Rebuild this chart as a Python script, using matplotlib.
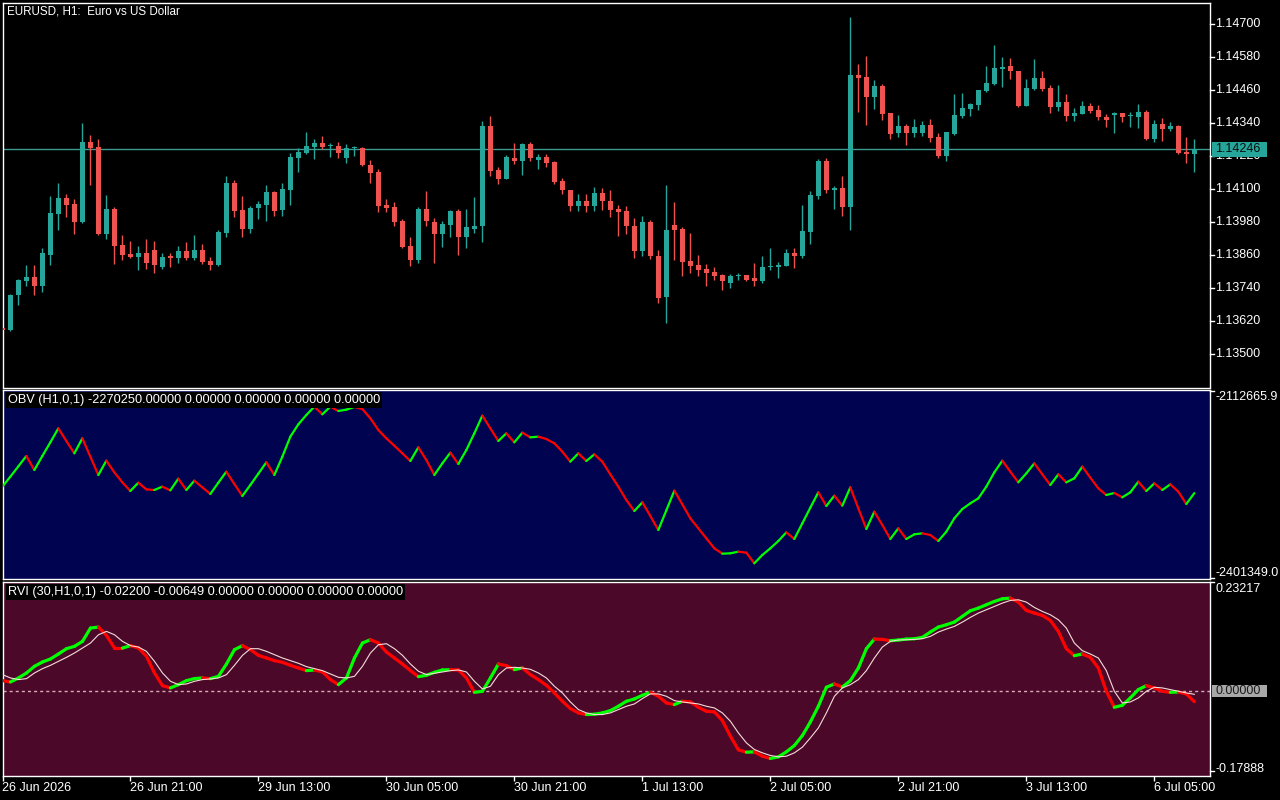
import matplotlib
matplotlib.use("Agg")
import matplotlib.pyplot as plt
from matplotlib.collections import LineCollection
from matplotlib.patches import Rectangle
import numpy as np

plt.rcParams['font.family'] = ['Liberation Sans', 'DejaVu Sans']

# ---------------- data (prices in points of 1e-5) ----------------
open_pts = [
    113597, 113589, 113714, 113768, 113782, 113750, 113863, 114012, 114069, 114047,
    113983, 114273, 114254, 113939, 114029, 113898, 113865, 113854, 113869, 113880,
    113819, 113854, 113852, 113876, 113852, 113880, 113840, 113826, 113943, 114124,
    114025, 113957, 114032, 114045, 114091, 114026, 114099, 114216, 114234, 114256,
    114269, 114257, 114258, 114216, 114250, 114251, 114189, 114163, 114043, 114036,
    113985, 113894, 113844, 114029, 113982, 113936, 113972, 114022, 113928, 113957,
    113965, 114331, 114171, 114139, 114214, 114205, 114265, 114208, 114218, 114200,
    114131, 114098, 114041, 114058, 114041, 114087, 114058, 114029, 114022, 113967,
    113877, 113982, 113858, 113710, 113971, 113956, 113840, 113825, 113811, 113800,
    113789, 113761, 113785, 113789, 113778, 113765, 113817, 113819, 113823, 113869,
    113856, 113946, 114077, 114204, 114096, 114105, 114037, 114516, 114509, 114438,
    114476, 114378, 114305, 114331, 114307, 114307, 114335, 114291, 114223, 114303,
    114368, 114394, 114408, 114459, 114485, 114539, 114549, 114529, 114405, 114466,
    114506, 114469, 114401, 114418, 114368, 114376, 114404, 114389, 114365, 114372,
    114377, 114366, 114365, 114382, 114285, 114338, 114318, 114331, 114236, 114227]
close_pts = [
    113589, 113716, 113771, 113782, 113750, 113869, 114014, 114069, 114045, 113983,
    114273, 114252, 113939, 114029, 113895, 113863, 113854, 113869, 113834, 113826,
    113854, 113852, 113876, 113852, 113880, 113837, 113826, 113945, 114124, 114023,
    113957, 114032, 114047, 114091, 114023, 114102, 114218, 114236, 114258, 114269,
    114254, 114259, 114234, 114251, 114252, 114187, 114161, 114041, 114034, 113983,
    113892, 113844, 114029, 113986, 113936, 113974, 114022, 113928, 113963, 113967,
    114331, 114168, 114139, 114218, 114205, 114265, 114216, 114218, 114197, 114128,
    114096, 114041, 114058, 114041, 114087, 114056, 114026, 114019, 113965, 113877,
    113982, 113856, 113706, 113952, 113954, 113837, 113823, 113808, 113797, 113786,
    113765, 113786, 113788, 113772, 113765, 113818, 113820, 113825, 113869, 113856,
    113949, 114080, 114204, 114096, 114105, 114037, 114516, 114507, 114438, 114476,
    114376, 114303, 114331, 114307, 114327, 114335, 114288, 114223, 114309, 114371,
    114396, 114411, 114462, 114487, 114542, 114544, 114529, 114405, 114469, 114506,
    114466, 114401, 114418, 114368, 114378, 114404, 114387, 114365, 114354, 114377,
    114365, 114368, 114382, 114285, 114338, 114318, 114331, 114234, 114227, 114246]
high_pts = [
    113601, 113718, 113775, 113825, 113825, 113887, 114076, 114124, 114083, 114065,
    114342, 114298, 114284, 114080, 114036, 113934, 113912, 113894, 113920, 113912,
    113869, 113869, 113894, 113909, 113934, 113901, 113854, 113952, 114149, 114134,
    114076, 114040, 114058, 114116, 114093, 114124, 114233, 114251, 114309, 114284,
    114294, 114269, 114273, 114265, 114258, 114254, 114207, 114174, 114065, 114054,
    113992, 113927, 114036, 114094, 113996, 113985, 114025, 114029, 114029, 114073,
    114349, 114367, 114182, 114225, 114269, 114267, 114273, 114229, 114229, 114204,
    114142, 114098, 114083, 114083, 114109, 114105, 114098, 114043, 114040, 113996,
    114003, 113989, 113880, 114116, 114054, 113963, 113942, 113862, 113829, 113818,
    113792, 113792, 113796, 113789, 113832, 113858, 113887, 113836, 113883, 113887,
    114043, 114094, 114211, 114214, 114113, 114149, 114727, 114556, 114586, 114498,
    114484, 114378, 114371, 114338, 114356, 114349, 114356, 114305, 114310, 114447,
    114451, 114415, 114463, 114549, 114626, 114582, 114578, 114532, 114502, 114575,
    114531, 114480, 114480, 114447, 114396, 114422, 114415, 114407, 114375, 114383,
    114379, 114383, 114411, 114389, 114353, 114360, 114345, 114335, 114291, 114284]
low_pts = [
    113586, 113583, 113681, 113749, 113714, 113728, 113825, 113954, 114001, 113936,
    113976, 114117, 113934, 113920, 113829, 113844, 113852, 113808, 113812, 113794,
    113812, 113819, 113834, 113844, 113844, 113830, 113808, 113823, 113925, 114001,
    113925, 113943, 113994, 113986, 114005, 114005, 114045, 114165, 114230, 114212,
    114247, 114219, 114216, 114197, 114223, 114185, 114125, 114019, 114016, 113968,
    113888, 113823, 113834, 113968, 113834, 113892, 113925, 113863, 113885, 113943,
    113910, 114150, 114121, 114138, 114194, 114154, 114205, 114176, 114183, 114121,
    114085, 114023, 114023, 114016, 114023, 114026, 114001, 113932, 113939, 113852,
    113859, 113848, 113688, 113615, 113844, 113786, 113797, 113786, 113750, 113772,
    113735, 113743, 113772, 113768, 113750, 113761, 113808, 113779, 113821, 113815,
    113852, 113903, 114066, 114088, 114030, 114005, 113954, 114383, 114336, 114394,
    114354, 114285, 114292, 114263, 114292, 114296, 114274, 114216, 114205, 114299,
    114358, 114368, 114390, 114456, 114481, 114474, 114503, 114401, 114404, 114463,
    114459, 114379, 114387, 114350, 114350, 114375, 114379, 114354, 114328, 114307,
    114347, 114328, 114325, 114281, 114274, 114277, 114314, 114227, 114197, 114165]

obv = [
    -2260330, -2244943, -2229043, -2213143, -2234685, -2213143, -2192114, -2170572, -2190062, -2209040,
    -2185959, -2214169, -2242378, -2220323, -2238275, -2253662, -2266997, -2254175, -2264433, -2265459,
    -2260330, -2265971, -2248020, -2265459, -2251097, -2261355, -2271613, -2254175, -2237249, -2256226,
    -2274691, -2257765, -2240326, -2222888, -2242378, -2214169, -2183395, -2164417, -2150056, -2137234,
    -2149030, -2137234, -2143901, -2141850, -2137746, -2140824, -2155185, -2173137, -2185959, -2197243,
    -2209040, -2220836, -2199807, -2219298, -2242378, -2224427, -2208014, -2225452, -2203911, -2178266,
    -2151082, -2170572, -2190062, -2178266, -2192114, -2177240, -2184420, -2183395, -2186985, -2193653,
    -2206475, -2221862, -2209040, -2220836, -2210578, -2221862, -2241352, -2260330, -2280846, -2297771,
    -2284436, -2305465, -2327007, -2296745, -2266484, -2287513, -2309055, -2324442, -2339829, -2355216,
    -2363422, -2362900, -2360345, -2361884, -2378297, -2365474, -2355216, -2343932, -2330597, -2340855,
    -2316749, -2292642, -2269049, -2290078, -2274178, -2289565, -2261355, -2293668, -2325468, -2298797,
    -2319313, -2340855, -2324442, -2340855, -2333674, -2332136, -2334700, -2343932, -2329571, -2309055,
    -2294694, -2285975, -2278281, -2260330, -2238275, -2220323, -2237249, -2253662, -2239814, -2224427,
    -2241352, -2257765, -2241352, -2253662, -2247507, -2229556, -2246481, -2262894, -2273152, -2270075,
    -2276742, -2269049, -2252636, -2266997, -2255201, -2265459, -2256739, -2268023, -2287000, -2270250]

rvi_main = [
    0.0226, 0.0198, 0.0283, 0.0389, 0.0531, 0.0623, 0.0687, 0.0793, 0.0906, 0.0956,
    0.1062, 0.1345, 0.1366, 0.1189, 0.0920, 0.0920, 0.0970, 0.0920, 0.0743, 0.0389,
    0.0120, 0.0071, 0.0141, 0.0226, 0.0269, 0.0283, 0.0269, 0.0318, 0.0580, 0.0885,
    0.0970, 0.0885, 0.0764, 0.0708, 0.0651, 0.0616, 0.0552, 0.0495, 0.0439, 0.0453,
    0.0410, 0.0248, 0.0141, 0.0283, 0.0708, 0.1026, 0.1097, 0.1026, 0.0835, 0.0708,
    0.0580, 0.0439, 0.0311, 0.0340, 0.0403, 0.0453, 0.0460, 0.0453, 0.0283, -0.0022,
    -0.0001, 0.0283, 0.0580, 0.0545, 0.0460, 0.0495, 0.0354, 0.0248, 0.0127, -0.0036,
    -0.0213, -0.0369, -0.0461, -0.0496, -0.0489, -0.0461, -0.0411, -0.0319, -0.0213, -0.0164,
    -0.0086, -0.0022, -0.0107, -0.0249, -0.0284, -0.0213, -0.0228, -0.0341, -0.0426, -0.0440,
    -0.0624, -0.0957, -0.1247, -0.1297, -0.1290, -0.1382, -0.1431, -0.1396, -0.1290, -0.1155,
    -0.0943, -0.0653, -0.0319, 0.0085, 0.0155, 0.0091, 0.0226, 0.0495, 0.0906, 0.1111,
    0.1104, 0.1076, 0.1090, 0.1111, 0.1118, 0.1147, 0.1260, 0.1366, 0.1416, 0.1472,
    0.1593, 0.1713, 0.1770, 0.1841, 0.1911, 0.1968, 0.1982, 0.1897, 0.1720, 0.1664,
    0.1614, 0.1508, 0.1274, 0.0906, 0.0757, 0.0793, 0.0722, 0.0495, -0.0001, -0.0341,
    -0.0299, -0.0142, 0.0035, 0.0120, 0.0071, -0.0001, -0.0022, -0.0015, -0.0057, -0.02200]
rvi_signal = [
    0.0354, 0.0283, 0.0248, 0.0269, 0.0389, 0.0481, 0.0552, 0.0637, 0.0722, 0.0814,
    0.0920, 0.1026, 0.1203, 0.1274, 0.1203, 0.1062, 0.0970, 0.0941, 0.0849, 0.0637,
    0.0389, 0.0212, 0.0141, 0.0155, 0.0212, 0.0248, 0.0262, 0.0283, 0.0354, 0.0552,
    0.0764, 0.0906, 0.0906, 0.0849, 0.0779, 0.0708, 0.0651, 0.0595, 0.0524, 0.0481,
    0.0439, 0.0368, 0.0297, 0.0283, 0.0318, 0.0531, 0.0814, 0.0991, 0.1012, 0.0906,
    0.0764, 0.0580, 0.0425, 0.0354, 0.0382, 0.0410, 0.0439, 0.0453, 0.0410, 0.0212,
    0.0049, 0.0106, 0.0354, 0.0495, 0.0510, 0.0495, 0.0467, 0.0389, 0.0283, 0.0106,
    -0.0036, -0.0228, -0.0390, -0.0461, -0.0496, -0.0496, -0.0461, -0.0390, -0.0319, -0.0270,
    -0.0156, -0.0057, -0.0057, -0.0107, -0.0199, -0.0228, -0.0249, -0.0270, -0.0319, -0.0355,
    -0.0461, -0.0638, -0.0886, -0.1098, -0.1240, -0.1311, -0.1367, -0.1396, -0.1382, -0.1311,
    -0.1190, -0.0992, -0.0780, -0.0461, -0.0107, 0.0071, 0.0141, 0.0248, 0.0439, 0.0708,
    0.0941, 0.1062, 0.1090, 0.1097, 0.1104, 0.1118, 0.1168, 0.1260, 0.1324, 0.1380,
    0.1472, 0.1572, 0.1664, 0.1734, 0.1805, 0.1876, 0.1933, 0.1947, 0.1897, 0.1784,
    0.1699, 0.1628, 0.1522, 0.1345, 0.1026, 0.0864, 0.0793, 0.0708, 0.0439, -0.0001,
    -0.0249, -0.0228, -0.0142, -0.0001, 0.0085, 0.0071, 0.0035, -0.0001, -0.0036, -0.00649]

time_label_idx = [0, 16, 32, 48, 64, 80, 96, 112, 128, 144]
time_labels = ["26 Jun 2026", "26 Jun 21:00", "29 Jun 13:00", "30 Jun 05:00", "30 Jun 21:00",
               "1 Jul 13:00", "2 Jul 05:00", "2 Jul 21:00", "3 Jul 13:00", "6 Jul 05:00"]
price_ticks = [1.14700, 1.14580, 1.14460, 1.14340, 1.14220, 1.14100,
               1.13980, 1.13860, 1.13740, 1.13620, 1.13500]
obv_scale = [-2112665.9, -2401349.0]
rvi_scale = [0.23217, 0.0, -0.17888]

# ---------------- figure ----------------
W, H = 1280, 800
fig = plt.figure(figsize=(12.8, 8), dpi=100, facecolor='black')

def px_axes(x0, y0, x1, y1, fc):
    ax = fig.add_axes([x0 / W, 1 - y1 / H, (x1 - x0) / W, (y1 - y0) / H])
    ax.set_facecolor(fc)
    for s in ax.spines.values():
        s.set_color('white')
        s.set_linewidth(1)
    ax.tick_params(left=False, right=False, bottom=False, top=False,
                   labelleft=False, labelbottom=False)
    return ax

ax1 = px_axes(2.5, 3, 1210, 387.5, 'black')
ax2 = px_axes(2.5, 390, 1210, 578.5, '#00034f')
ax3 = px_axes(2.5, 581.5, 1210, 775.5, '#4b0828')

o = np.array(open_pts) / 1e5
c = np.array(close_pts) / 1e5
h = np.maximum(np.array(high_pts) / 1e5, np.maximum(o, c))
l = np.minimum(np.array(low_pts) / 1e5, np.minimum(o, c))
n = len(c)
x = np.arange(n)

for ax in (ax1, ax2, ax3):
    ax.set_xlim(0.02, 150.96)
ax1.set_ylim(1.133792, 1.147782)
ax2.set_ylim(-2401633, -2111589)
ax3.set_ylim(-0.1793, 0.2336)

# candles
up = c >= o
col = np.where(up, '#26a69a', '#ef5350')
ax1.axhline(c[-1], color='#3e9b93', lw=1, zorder=1)
ax1.vlines(x, l, h, colors=col, linewidth=1, zorder=2)
bot = np.minimum(o, c)
hgt = np.maximum(np.abs(c - o), 0.00004)
ax1.bar(x, hgt, bottom=bot, width=0.64, color=col, linewidth=0, zorder=3)

def colored_line(ax, y, lw):
    y = np.asarray(y, dtype=float)
    pts = np.column_stack([x, y])
    segs = np.stack([pts[:-1], pts[1:]], axis=1)
    d = np.diff(y)
    cols = np.where(d > 0, '#00ff00', '#ff0000')
    lc = LineCollection(segs, colors=cols, linewidths=lw, capstyle='round', zorder=3)
    ax.add_collection(lc)

colored_line(ax2, obv, 1.6)

ax3.axhline(0, color='#d8aab8', lw=1, dashes=(2.2, 2.2), zorder=1)
colored_line(ax3, rvi_main, 2.3)
ax3.plot(x, rvi_signal, color='#f7dada', lw=0.8, zorder=4)

ax3.set_xticks(time_label_idx)
ax3.set_xticklabels(time_labels)
ax3.tick_params(axis='x', bottom=True, labelbottom=True, direction='out', length=3.5,
                width=1, color='white', labelcolor='white', labelsize=9, pad=1.5)
for t in ax3.get_xticklabels():
    t.set_ha('left')

# ---------------- overlay for right scale labels ----------------
ov = fig.add_axes([0, 0, 1, 1], zorder=10)
ov.set_xlim(0, W)
ov.set_ylim(H, 0)
ov.axis('off')
ov.patch.set_visible(False)

def ypix(ax, v):
    return H - ax.transData.transform((0, v))[1]

yb = ypix(ax1, c[-1])
for p in price_ticks:
    yy = ypix(ax1, p)
    ov.plot([1210, 1214], [yy, yy], color='white', lw=1)
    ov.text(1215, yy, f"{p:.5f}", color='white', fontsize=9, va='center', ha='left')

ov.add_patch(Rectangle((1212, yb - 7.5), 55, 15, facecolor='#26a69a', edgecolor='none', zorder=5))
ov.text(1215, yb, f"{c[-1]:.5f}", color='#0c0c0c', fontsize=9, va='center', ha='left', zorder=6)

# OBV scale
yt = ypix(ax2, obv_scale[0])
ov.plot([1210, 1214], [yt, yt], color='white', lw=1)
ov.text(1215, yt + 6.5, f"{obv_scale[0]:.1f}", color='white', fontsize=9, va='center', ha='left')
ybm = ypix(ax2, obv_scale[1])
ov.plot([1210, 1214], [ybm, ybm], color='white', lw=1)
ov.text(1215, ybm - 5, f"{obv_scale[1]:.1f}", color='white', fontsize=9, va='center', ha='left')

# RVI scale
yt = ypix(ax3, rvi_scale[0])
ov.plot([1210, 1214], [yt, yt], color='white', lw=1)
ov.text(1215, yt + 6.5, f"{rvi_scale[0]:.5f}", color='white', fontsize=9, va='center', ha='left')
yz = ypix(ax3, rvi_scale[1])
ov.add_patch(Rectangle((1212, yz - 6), 55, 12, facecolor='#a8a8a8', edgecolor='none', zorder=5))
ov.text(1215, yz, f"{rvi_scale[1]:.5f}", color='#1a1a1a', fontsize=9, va='center', ha='left', zorder=6)
ybr = ypix(ax3, rvi_scale[2])
ov.plot([1210, 1214], [ybr - 4, ybr - 4], color='white', lw=1)
ov.text(1215, ybr - 6.5, f"{rvi_scale[2]:.5f}", color='white', fontsize=9, va='center', ha='left')

# titles
ov.text(7, 12, "EURUSD, H1:  Euro vs US Dollar", color='white', fontsize=8.4, va='center', ha='left')
ov.text(8, 400, f"OBV (H1,0,1) {obv[-1]:.5f} 0.00000 0.00000 0.00000 0.00000", color='white',
        fontsize=9.2, va='center', ha='left',
        bbox=dict(boxstyle='square,pad=0.12', fc='black', ec='none'))
ov.text(8, 592, f"RVI (30,H1,0,1) {rvi_main[-1]:.5f} {rvi_signal[-1]:.5f} 0.00000 0.00000 0.00000 0.00000",
        color='white', fontsize=9.2, va='center', ha='left',
        bbox=dict(boxstyle='square,pad=0.12', fc='black', ec='none'))

fig.savefig('out.png', dpi=100, facecolor='black')
